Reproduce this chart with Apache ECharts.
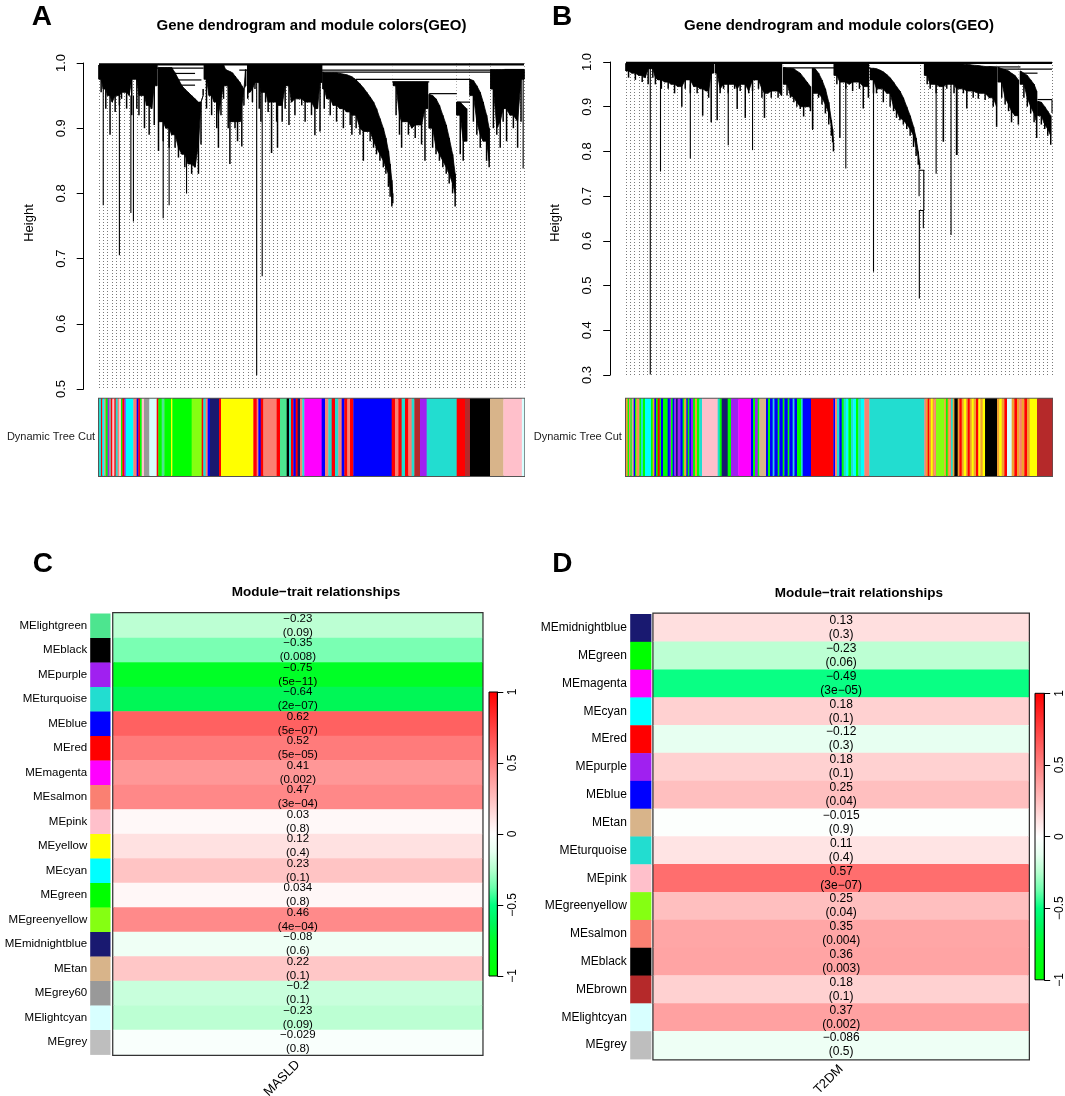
<!DOCTYPE html>
<html><head><meta charset="utf-8">
<script src="https://cdn.jsdelivr.net/npm/echarts@6/dist/echarts.min.js"></script>
<style>html,body{margin:0;padding:0;background:#fff}#c{width:1065px;height:1096px}</style>
</head><body><div id="c"></div>
<script>
const FONT = '"Liberation Sans", Arial, Helvetica, sans-serif';

// ---------- module colours ----------
const MODCOL = {
  turquoise:'#22ddd0', blue:'#0000ff', brown:'#b5292a', yellow:'#ffff00', green:'#00ff00',
  red:'#ff0000', black:'#000000', pink:'#ffc0cb', magenta:'#ff00ff', purple:'#a020f0',
  greenyellow:'#85ff12', tan:'#d8b48a', salmon:'#fa8072', cyan:'#00ffff', midnightblue:'#191970',
  lightcyan:'#d8ffff', grey60:'#999999', lightgreen:'#4de58f', grey:'#bebebe', orange:'#f0a030'
};

// ---------- Panel A dendrogram clusters: each point [leaf order (0-1000), upper height, lowest leaf height] ----------
const denA = [
 [[0,.997,.975],[5,.997,.955],[10,.997,.96],[16,.997,.93],[20,.997,.95],[26,.997,.89],[31,.997,.94],[38,.997,.925],[43,.997,.95],[48,.997,.935],[53,.997,.945],[60,.997,.955],[65,.997,.93],[71,.997,.95],[77,.997,.92],[83,.997,.975],[89,.997,.93],[94,.997,.92],[100,.997,.95],[107,.997,.90],[112,.997,.935],[118,.997,.89],[124,.997,.93],[130,.997,.905],[136,.997,.965]],
 [[140,.993,.865],[146,.993,.91],[151,.993,.88],[157,.993,.90],[165,.993,.87],[171,.993,.89],[179,.985,.87],[187,.975,.855],[195,.965,.86],[202,.96,.84],[210,.955,.845],[218,.95,.83],[226,.945,.84],[234,.94,.83],[240,.94,.875],[245,.95,.96]],
 [[248,.997,.975],[253,.997,.93],[259,.997,.95],[265,.997,.92],[271,.997,.94],[277,.997,.90],[281,.997,.87],[287,.997,.92],[293,.997,.945],[298,.99,.965],[304,.988,.90],[308,.987,.845],[314,.985,.91],[320,.98,.90],[326,.975,.88],[332,.97,.91],[336,.965,.872],[341,.96,.935],[345,.99,.965]],
 [[350,.997,.945],[355,.997,.955],[361,.997,.94],[367,.997,.96],[371,.997,.97],[377,.997,.93],[381,.997,.91],[388,.997,.955],[392,.997,.94],[398,.997,.925],[406,.997,.862],[413,.997,.94],[418,.997,.91],[420,.997,.87],[426,.997,.935],[431,.997,.91],[438,.997,.93],[442,.997,.965],[447,.997,.905],[453,.997,.94],[461,.997,.92],[469,.997,.945],[477,.997,.935],[485,.997,.91],[493,.997,.94],[500,.997,.92],[508,.997,.889],[514,.997,.93],[520,.997,.895],[524,.997,.97]],
 [[527,.986,.96],[530,.985,.93],[536,.985,.945],[544,.985,.92],[551,.985,.935],[559,.985,.91],[567,.984,.93],[575,.983,.90],[583,.982,.925],[591,.98,.905],[595,.979,.89],[599,.977,.92],[605,.974,.90],[614,.968,.89],[622,.962,.85],[630,.955,.895],[638,.948,.88],[646,.94,.87],[653,.93,.86],[661,.915,.85],[669,.90,.84],[675,.885,.83],[681,.865,.81],[685,.845,.795],[689,.82,.78],[691,.80,.785]],
 [[693,.971,.965],[699,.971,.92],[707,.971,.89],[712,.971,.87],[720,.971,.91],[728,.971,.89],[736,.971,.90],[744,.971,.885],[751,.971,.905],[759,.971,.875],[767,.971,.85],[773,.971,.93]],
 [[777,.952,.90],[785,.95,.87],[793,.945,.86],[801,.935,.85],[809,.92,.84],[817,.905,.83],[824,.885,.815],[832,.86,.80],[838,.83,.78]],
 [[842,.94,.92],[850,.94,.86],[857,.935,.85],[865,.93,.88]],
 [[873,.975,.95],[881,.973,.91],[889,.965,.89],[897,.955,.87],[904,.94,.88],[912,.92,.85],[918,.90,.84]],
 [[922,.99,.96],[928,.99,.90],[936,.99,.89],[944,.99,.87],[951,.99,.91],[954,.99,.93],[959,.99,.88],[967,.99,.92],[975,.99,.90],[985,.99,.87],[993,.99,.91],[1000,.99,.975]]
];
// long single branches: [leaf, from height, to height]
const spikesA = [[10,.96,.782],[48,.95,.705],[75,.95,.77],[81,.95,.757],[151,.95,.762],[165,.95,.782],[206,.95,.80],[371,.97,.521],[384,.96,.673],[998,.99,.838]];
// horizontal merges: [leaf from, leaf to, height]
const mergesA = [[0,1000,.998],[136,246,.992],[179,226,.984],[186,241,.974],[190,226,.966],[330,922,.989],[524,1000,.986],[604,873,.975],[690,777,.971],[777,842,.953],[842,873,.94],[954,1000,.99]];

// ---------- Panel B dendrogram clusters ----------
const denB = [
 [[0,.997,.98],[6,.997,.965],[14,.997,.975],[22,.997,.96],[30,.997,.97],[38,.997,.955],[45,.997,.965],[52,.997,.95],[56,.997,.985],[63,.997,.965],[69,.997,.95],[75,.997,.96],[83,.997,.94],[91,.997,.955],[99,.997,.94],[106,.997,.95],[114,.997,.93],[122,.997,.945],[131,.997,.90],[139,.997,.94],[145,.997,.96],[151,.997,.93],[159,.997,.945],[167,.997,.93],[174,.997,.94],[180,.997,.88],[188,.997,.935],[194,.997,.92],[200,.997,.865],[205,.997,.975]],
 [[210,.997,.975],[214,.997,.87],[221,.997,.93],[229,.997,.94],[235,.997,.95],[240,.997,.93],[247,.997,.95],[255,.997,.94],[261,.997,.895],[268,.997,.935],[274,.997,.95],[280,.997,.875],[288,.997,.93],[297,.997,.935],[304,.997,.96],[311,.997,.94],[319,.997,.92],[325,.997,.875],[333,.997,.93],[341,.997,.92],[349,.997,.935],[357,.997,.92],[365,.997,.925]],
 [[370,.988,.95],[378,.986,.925],[386,.986,.92],[394,.985,.91],[401,.98,.90],[409,.975,.895],[417,.965,.878],[425,.955,.90],[433,.945,.89]],
 [[438,.986,.85],[444,.985,.93],[452,.975,.92],[460,.96,.905],[468,.94,.885],[476,.91,.86],[482,.87,.835],[485,.85,.82],[487,.82,.80]],
 [[489,.997,.97],[495,.997,.95],[502,.997,.83],[509,.997,.955],[516,.997,.94],[524,.997,.95],[532,.997,.935],[540,.997,.955],[548,.997,.94],[557,.997,.896],[563,.997,.945],[569,.997,.92]],
 [[574,.986,.96],[581,.986,.93],[588,.985,.93],[596,.982,.94],[604,.978,.91],[612,.972,.93],[620,.965,.90],[628,.955,.89],[635,.945,.875],[643,.935,.87],[651,.92,.86],[659,.90,.85],[667,.88,.835],[675,.855,.81],[681,.83,.79],[686,.80,.77],[689,.775,.76]],
 [[701,.997,.97],[707,.997,.95],[714,.997,.94],[722,.997,.95],[728,.997,.93],[736,.997,.945],[745,.997,.822],[753,.997,.94],[763,.997,.95],[770,.997,.93],[776,.997,.792],[784,.997,.94],[792,.995,.93],[800,.995,.896],[808,.994,.935],[815,.993,.92],[827,.992,.918],[835,.991,.93],[843,.99,.915],[853,.99,.92],[862,.989,.90],[870,.988,.855]],
 [[874,.988,.955],[882,.985,.92],[890,.983,.905],[898,.98,.89],[905,.975,.865],[913,.97,.88],[921,.96,.86]],
 [[926,.98,.95],[934,.975,.92],[942,.97,.90],[950,.96,.885],[958,.95,.865],[964,.935,.83]],
 [[967,.912,.88],[975,.91,.86],[983,.90,.85],[990,.89,.835],[997,.88,.815]]
];
const spikesB = [[57,.99,.301],[81,.96,.755],[151,.95,.784],[240,.95,.814],[297,.95,.803],[438,.98,.848],[516,.96,.762],[581,.97,.531],[728,.96,.75],[745,.96,.822],[763,.97,.613],[777,.96,.792],[1000,.916,.886]];
const mergesB = [[0,1000,.998],[370,574,.987],[853,926,.989],[874,1000,.984],[926,966,.975],[966,1000,.916]];
// U-shaped links: [left leaf, right leaf, merge height, left child height, right child height]
const linksB = [[688,699,.758,.70,.668],[688.6,698,.668,.471,.628]];

// ---------- Dynamic Tree Cut colour strips: [leaf from, leaf to, module] ----------
const barA = [
 [0,4.7,'turquoise'],[4.7,7.8,'red'],[7.8,12.5,'cyan'],[12.5,15.7,'salmon'],[15.7,20.4,'green'],[20.4,23.5,'purple'],[23.5,28.2,'grey60'],[28.2,31.4,'red'],[31.4,36.1,'pink'],[36.1,39.2,'red'],[39.2,43.9,'turquoise'],[43.9,47.1,'salmon'],[47.1,51.8,'pink'],[51.8,54.9,'green'],[54.9,59.6,'red'],[59.6,62.7,'purple'],
 [62.7,80.8,'cyan'],[80.8,88.6,'salmon'],[88.6,92.5,'blue'],[92.5,96.5,'red'],[96.5,100.4,'green'],[100.4,105.9,'pink'],
 [105.9,118.4,'grey60'],[118.4,135.7,'lightcyan'],[135.7,139.6,'red'],[139.6,147.5,'green'],[147.5,153.7,'lightgreen'],[153.7,169.4,'green'],[169.4,172.5,'yellow'],[172.5,218,'green'],
 [218,241.6,'greenyellow'],[241.6,245.5,'red'],[245.5,251,'turquoise'],[251,255.7,'salmon'],[255.7,261.2,'blue'],
 [261.2,282.4,'midnightblue'],[282.4,287.1,'red'],[287.1,363.1,'yellow'],[363.1,371,'red'],[371,374.9,'salmon'],[374.9,380.4,'blue'],[380.4,386.7,'red'],
 [386.7,418,'salmon'],[418,425.9,'red'],[425.9,441.6,'lightgreen'],[441.6,447,'black'],[447,451.8,'turquoise'],[451.8,457.3,'red'],[457.3,462.7,'blue'],[462.7,467.4,'red'],[467.4,473,'midnightblue'],[473,478.4,'salmon'],[478.4,483.1,'turquoise'],
 [483.1,523.9,'magenta'],[523.9,531.8,'blue'],[531.8,539.6,'salmon'],[539.6,547.5,'turquoise'],[547.5,555.3,'red'],[555.3,563.1,'turquoise'],[563.1,571,'salmon'],[571,577.3,'blue'],[577.3,584.3,'red'],[584.3,590.6,'salmon'],[590.6,598.4,'red'],
 [598.4,688.6,'blue'],[688.6,696.5,'red'],[696.5,704.3,'salmon'],[704.3,712.1,'red'],[712.1,720,'turquoise'],[720,727.8,'red'],[727.8,735.7,'salmon'],[735.7,741.9,'turquoise'],[741.9,755.3,'brown'],
 [755.3,771,'purple'],[771,841.6,'turquoise'],[841.6,861.2,'red'],[861.2,872.9,'brown'],[872.9,920,'black'],[920,951.4,'tan'],[951.4,995,'pink'],[995,1000,'lightcyan']
];
const barB = [
 [0,3.9,'orange'],[3.9,7,'green'],[7,10.2,'salmon'],[10.2,13.3,'green'],[13.3,18,'tan'],[18,21.1,'blue'],[21.1,24.3,'green'],[24.3,27.4,'orange'],[27.4,31.3,'salmon'],[31.3,35.2,'green'],[35.2,39.9,'turquoise'],[39.9,44.6,'green'],
 [44.6,58.7,'cyan'],[58.7,62.6,'green'],[62.6,66.5,'orange'],[66.5,70.4,'blue'],[70.4,74.3,'green'],[74.3,79,'red'],[79,82.2,'green'],[82.2,86.9,'blue'],[86.9,97.8,'green'],[97.8,102.5,'blue'],[102.5,105.6,'purple'],[105.6,109.5,'green'],[109.5,113.5,'blue'],[113.5,117.4,'purple'],[117.4,121.3,'midnightblue'],[121.3,127.5,'purple'],[127.5,133,'blue'],[133,136.9,'green'],[136.9,141.6,'orange'],[141.6,144.8,'blue'],[144.8,148.7,'green'],[148.7,152.6,'blue'],[152.6,157.3,'purple'],[157.3,162,'green'],[162,166.7,'orange'],[166.7,172.1,'green'],[172.1,178.4,'turquoise'],
 [178.4,215.2,'pink'],[215.2,219.9,'turquoise'],[219.9,224.6,'green'],[224.6,238.7,'midnightblue'],[238.7,246.5,'green'],[246.5,263.7,'purple'],
 [263.7,293.4,'magenta'],[293.4,298.1,'blue'],[298.1,302.8,'green'],[302.8,309.1,'purple'],[309.1,313,'green'],[313,328.6,'tan'],
 [328.6,333.3,'blue'],[333.3,338,'green'],[338,344.3,'blue'],[344.3,348.2,'turquoise'],[348.2,356,'blue'],[356,360,'green'],[360,367.8,'blue'],[367.8,371.7,'green'],[371.7,379.5,'blue'],[379.5,383.4,'green'],[383.4,391.2,'blue'],[391.2,395.2,'turquoise'],[395.2,401.4,'blue'],
 [401.4,410.8,'green'],[410.8,414.7,'turquoise'],[414.7,434.3,'blue'],[434.3,486.7,'red'],
 [486.7,490.6,'blue'],[490.6,495.3,'salmon'],[495.3,500.8,'turquoise'],[500.8,506.3,'blue'],[506.3,511,'green'],[511,516.5,'turquoise'],[516.5,521.9,'cyan'],[521.9,528.2,'green'],[528.2,533.7,'turquoise'],[533.7,539.9,'cyan'],[539.9,545.4,'green'],[545.4,551.7,'turquoise'],[551.7,559.5,'cyan'],
 [559.5,571.2,'salmon'],[571.2,700.3,'turquoise'],
 [700.3,704.3,'salmon'],[704.3,708.2,'orange'],[708.2,712.1,'red'],[712.1,716,'orange'],[716,719.9,'yellow'],[719.9,723.8,'orange'],[723.8,727.7,'salmon'],
 [727.7,747.3,'greenyellow'],[747.3,751.2,'orange'],[751.2,755.1,'green'],[755.1,759,'orange'],[759,762.9,'salmon'],[762.9,766.9,'turquoise'],[766.9,770.8,'orange'],
 [770.8,778.6,'black'],[778.6,782.5,'orange'],[782.5,788,'red'],[788,792.7,'orange'],[792.7,798.2,'yellow'],[798.2,802.1,'orange'],[802.1,806.8,'red'],[806.8,811.4,'orange'],[811.4,816.1,'yellow'],[816.1,821.6,'orange'],[821.6,827.1,'red'],[827.1,831.8,'yellow'],[831.8,837.3,'orange'],[837.3,842.8,'yellow'],
 [842.8,870.9,'black'],[870.9,876.4,'orange'],[876.4,881.9,'yellow'],[881.9,888.1,'orange'],[888.1,894.4,'red'],[894.4,905.3,'lightcyan'],[905.3,911.6,'orange'],[911.6,917.9,'red'],[917.9,923.3,'orange'],[923.3,928.8,'salmon'],[928.8,935,'orange'],[935,941.4,'red'],[941.4,947.6,'orange'],
 [947.6,964.8,'yellow'],[964.8,1000,'brown']
];

// ---------- Panel C: module-trait (MASLD) ----------
const modsC = ['MElightgreen','MEblack','MEpurple','MEturquoise','MEblue','MEred','MEmagenta','MEsalmon','MEpink','MEyellow','MEcyan','MEgreen','MEgreenyellow','MEmidnightblue','MEtan','MEgrey60','MElightcyan','MEgrey'];
const corC = [-0.23,-0.35,-0.75,-0.64,0.62,0.52,0.41,0.47,0.03,0.12,0.23,0.034,0.46,-0.08,0.22,-0.2,-0.23,-0.029];
const pC = ['0.09','0.008','5e-11','2e-07','5e-07','5e-05','0.002','3e-04','0.8','0.4','0.1','0.8','4e-04','0.6','0.1','0.1','0.09','0.8'];
const traitC = ['MASLD'];

// ---------- Panel D: module-trait (T2DM) ----------
const modsD = ['MEmidnightblue','MEgreen','MEmagenta','MEcyan','MEred','MEpurple','MEblue','MEtan','MEturquoise','MEpink','MEgreenyellow','MEsalmon','MEblack','MEbrown','MElightcyan','MEgrey'];
const corD = [0.13,-0.23,-0.49,0.18,-0.12,0.18,0.25,-0.015,0.11,0.57,0.25,0.35,0.36,0.18,0.37,-0.086];
const pD = ['0.3','0.06','3e-05','0.1','0.3','0.1','0.04','0.9','0.4','3e-07','0.04','0.004','0.003','0.1','0.002','0.5'];
const traitD = ['T2DM'];

// colour scale stops, evenly spaced from -1 to 1
const scaleColors = ['#00ff00','#00ff12','#00ff26','#00f65c','#00ff80','#6cffac','#b4ffce','#e6fff0','#ffffff','#ffe0e0','#ffbfbf','#ffa0a0','#ff8080','#ff6060','#ff4040','#ff2020','#ff0000'];

// ================= helpers =================
const fmt = s => String(s).replace(/-/g, '\u2212');

function denSeries(ax, clusters) {
  return { type:'custom', xAxisIndex:ax, yAxisIndex:ax, silent:true, z:3,
    data: clusters.map(c => [c[0][0], c[c.length - 1][0]]), encode:{x:[0,1]},
    renderItem: (params, api) => {
      const pts = clusters[params.dataIndex];
      const n = pts.length;
      const solid = pts.map((p, i) => {
        let m = p[2];
        if (i > 0) m = Math.max(m, pts[i - 1][2]);
        if (i < n - 1) m = Math.max(m, pts[i + 1][2]);
        return Math.min(m, p[1]);
      });
      const children = [];
      const ceil = pts.map(p => api.coord([p[0], 1]));
      const topL = pts.map(p => api.coord([p[0], p[1]]));
      children.push({ type:'polygon', shape:{points: ceil.concat(topL.slice().reverse())}, style:{fill:'#fff', stroke:'#fff', lineWidth:0.5} });
      const lo = pts.map((p, i) => api.coord([p[0], solid[i]])).reverse();
      children.push({ type:'polygon', shape:{points: topL.concat(lo)}, style:{fill:'#000', stroke:'#000', lineWidth:0.8} });
      pts.forEach(p => {
        const a = api.coord([p[0], p[1]]), b = api.coord([p[0], p[2]]);
        children.push({ type:'line', shape:{x1:a[0], y1:a[1], x2:b[0], y2:b[1]}, style:{stroke:'#000', lineWidth:1.5} });
      });
      return { type:'group', children };
    } };
}
function spikeSeries(ax, arr) {
  return { type:'custom', xAxisIndex:ax, yAxisIndex:ax, silent:true, z:4,
    data: arr, encode:{x:0, y:[1,2]},
    renderItem: (params, api) => {
      const a = api.coord([api.value(0), api.value(1)]), b = api.coord([api.value(0), api.value(2)]);
      return { type:'line', shape:{x1:a[0], y1:a[1], x2:b[0], y2:b[1]}, style:{stroke:'#000', lineWidth:1.1} };
    } };
}
function mergeSeries(ax, arr) {
  return { type:'custom', xAxisIndex:ax, yAxisIndex:ax, silent:true, z:4,
    data: arr, encode:{x:[0,1], y:2},
    renderItem: (params, api) => {
      const a = api.coord([api.value(0), api.value(2)]), b = api.coord([api.value(1), api.value(2)]);
      return { type:'line', shape:{x1:a[0], y1:a[1], x2:b[0], y2:b[1]}, style:{stroke:'#000', lineWidth: params.dataIndex === 0 ? 2.2 : 1.2} };
    } };
}
function linkSeries(ax, arr) {
  return { type:'custom', xAxisIndex:ax, yAxisIndex:ax, silent:true, z:4,
    data: arr, encode:{x:[0,1], y:[2,3,4]},
    renderItem: (params, api) => {
      const l = api.value(0), r = api.value(1), h = api.value(2);
      const pts = [api.coord([l, api.value(3)]), api.coord([l, h]), api.coord([r, h]), api.coord([r, api.value(4)])];
      return { type:'polyline', shape:{points:pts}, style:{stroke:'#000', lineWidth:1.1, fill:null} };
    } };
}
function barSeries(ax, arr) {
  return { type:'custom', xAxisIndex:ax, yAxisIndex:ax, silent:true,
    data: arr.map(d => [d[0], d[1]]), encode:{x:[0,1]},
    renderItem: (params, api) => {
      const p1 = api.coord([api.value(0), 1]), p2 = api.coord([api.value(1), 0]);
      return { type:'rect', shape:{x:p1[0], y:p1[1], width:Math.max(p2[0]-p1[0], 0.5) + 0.35, height:p2[1]-p1[1]},
        style:{fill: MODCOL[arr[params.dataIndex][2]]} };
    } };
}
function squareSeries(ax, mods) {
  return { type:'custom', xAxisIndex:ax, yAxisIndex:ax, silent:true,
    data: mods.map((m, i) => [0, i]), encode:{x:0, y:1},
    renderItem: (params, api) => {
      const c = api.coord([0, api.value(1)]), s = api.size([1, 1]);
      return { type:'rect', shape:{x:c[0]-s[0]/2, y:c[1]-s[1]/2, width:s[0], height:s[1]+0.4},
        style:{fill: MODCOL[mods[params.dataIndex].slice(2)]} };
    } };
}
function heatSeries(ax, cors, ps, fs) {
  return { type:'heatmap', xAxisIndex:ax, yAxisIndex:ax, silent:true,
    data: cors.map((v, i) => [0, i, v]),
    itemStyle:{borderWidth:0},
    emphasis:{disabled:true},
    label:{ show:true, color:'#000', fontSize:fs, lineHeight:14, fontFamily:FONT,
      formatter: p => fmt(cors[p.dataIndex]) + '\n(' + fmt(ps[p.dataIndex]) + ')' } };
}

// ================= grids / axes =================
const grids = [
  {left:99, top:63, width:425, height:326},
  {left:99, top:398.7, width:425, height:77.3, show:true, borderColor:'#555', borderWidth:2},
  {left:626, top:62, width:426, height:313},
  {left:626, top:398.7, width:426, height:77.3, show:true, borderColor:'#555', borderWidth:2},
  {left:90.2, top:613.5, width:20.3, height:441},
  {left:113.6, top:613.5, width:368.5, height:441, show:true, borderColor:'#333', borderWidth:3},
  {left:489, top:692, width:8.3, height:284, show:true, borderColor:'#000', borderWidth:1},
  {left:630.2, top:614, width:21.2, height:445},
  {left:653.8, top:614, width:374.7, height:445, show:true, borderColor:'#333', borderWidth:3},
  {left:1035, top:693.3, width:9.2, height:286.5, show:true, borderColor:'#000', borderWidth:1}
];
const grad = () => new echarts.graphic.LinearGradient(0, 0, 0, 1,
  scaleColors.slice().reverse().map((c, i) => ({offset: i / (scaleColors.length - 1), color: c})));
grids[6].backgroundColor = grad();
grids[9].backgroundColor = grad();
grids.forEach(g => { g.outerBoundsMode = 'none'; g.containLabel = false; });

const hidden = {axisLine:{show:false}, axisTick:{show:false}, axisLabel:{show:false}, splitLine:{show:false}};
const dendroX = gi => ({gridIndex:gi, type:'value', min:0, max:1000, interval:10,
  axisLine:{show:false}, axisTick:{show:false}, axisLabel:{show:false},
  splitLine:{show:true, lineStyle:{color:'#7a7a7a', type:[1,2], width:1}}});
const dendroY = (gi, mn, off) => ({gridIndex:gi, type:'value', min:mn, max:1, interval:0.1, position:'left', offset:off,
  axisLine:{show:true, onZero:false, lineStyle:{color:'#000', width:1}},
  axisTick:{show:true, length:7, lineStyle:{color:'#000', width:1}},
  axisLabel:{rotate:90, margin:16, fontSize:13, color:'#000', fontFamily:FONT, formatter: v => v.toFixed(1)},
  splitLine:{show:false}});
const legendY = gi => ({gridIndex:gi, type:'value', min:-1, max:1, interval:0.5, position:'right',
  axisLine:{show:true, onZero:false, lineStyle:{color:'#000', width:1}},
  axisTick:{show:true, length:6, lineStyle:{color:'#000'}},
  axisLabel:{rotate:90, margin:9, fontSize:12, color:'#000', fontFamily:FONT, formatter: v => fmt(v)},
  splitLine:{show:false}});

const xAxes = [
  dendroX(0),
  Object.assign({gridIndex:1, type:'value', min:0, max:1000}, hidden),
  dendroX(2),
  Object.assign({gridIndex:3, type:'value', min:0, max:1000}, hidden),
  Object.assign({gridIndex:4, type:'category', data:['c']}, hidden),
  {gridIndex:5, type:'category', data:traitC, axisLine:{show:false}, axisTick:{show:false}, splitLine:{show:false},
    axisLabel:{rotate:45, margin:8, fontSize:13, color:'#000', fontFamily:FONT}},
  Object.assign({gridIndex:6, type:'value', min:0, max:1}, hidden),
  Object.assign({gridIndex:7, type:'category', data:['c']}, hidden),
  {gridIndex:8, type:'category', data:traitD, axisLine:{show:false}, axisTick:{show:false}, splitLine:{show:false},
    axisLabel:{rotate:45, margin:8, fontSize:13, color:'#000', fontFamily:FONT}},
  Object.assign({gridIndex:9, type:'value', min:0, max:1}, hidden)
];
const yAxes = [
  dendroY(0, 0.5, 15.3),
  Object.assign({gridIndex:1, type:'value', min:0, max:1}, hidden),
  dendroY(2, 0.3, 15.8),
  Object.assign({gridIndex:3, type:'value', min:0, max:1}, hidden),
  {gridIndex:4, type:'category', data:modsC, inverse:true, axisLine:{show:false}, axisTick:{show:false}, splitLine:{show:false},
    axisLabel:{margin:3, fontSize:11.5, color:'#000', fontFamily:FONT}},
  Object.assign({gridIndex:5, type:'category', data:modsC, inverse:true}, hidden),
  legendY(6),
  {gridIndex:7, type:'category', data:modsD, inverse:true, axisLine:{show:false}, axisTick:{show:false}, splitLine:{show:false},
    axisLabel:{margin:3.4, fontSize:12, color:'#000', fontFamily:FONT}},
  Object.assign({gridIndex:8, type:'category', data:modsD, inverse:true}, hidden),
  legendY(9)
];

// ================= series =================
const series = [
  denSeries(0, denA), spikeSeries(0, spikesA), mergeSeries(0, mergesA),
  barSeries(1, barA),
  denSeries(2, denB), spikeSeries(2, spikesB), mergeSeries(2, mergesB), linkSeries(2, linksB),
  barSeries(3, barB),
  squareSeries(4, modsC)
];
const heatCIdx = series.length; series.push(heatSeries(5, corC, pC, 11.5));
series.push(squareSeries(7, modsD));
const heatDIdx = series.length; series.push(heatSeries(8, corD, pD, 12));

// ================= texts =================
const txt = (text, x, y, font, extra, align, fill) => Object.assign({type:'text', x:x, y:y, z:100, silent:true,
  style:{text:text, font:font, fill:fill || '#000', align:align || 'center', verticalAlign:'middle'}}, extra || {});
const titleFont = 'bold 15px ' + FONT;
const letterFont = 'bold 28px ' + FONT;
const graphics = [
  txt('A', 31.7, 17, letterFont, null, 'left'),
  txt('B', 552, 17, letterFont, null, 'left'),
  txt('C', 32.7, 564, letterFont, null, 'left'),
  txt('D', 552.2, 564, letterFont, null, 'left'),
  txt('Gene dendrogram and module colors(GEO)', 311.5, 26, titleFont),
  txt('Gene dendrogram and module colors(GEO)', 839, 26, titleFont),
  txt('Module\u2212trait relationships', 316, 592.5, 'bold 13.5px ' + FONT),
  txt('Module\u2212trait relationships', 858.9, 593.2, 'bold 13.5px ' + FONT),
  txt('Height', 29.3, 223, '13px ' + FONT, {rotation: Math.PI / 2}),
  txt('Height', 555.6, 223, '13px ' + FONT, {rotation: Math.PI / 2}),
  txt('Dynamic Tree Cut', 51, 437.4, '11px ' + FONT, null, 'center', '#222'),
  txt('Dynamic Tree Cut', 577.8, 437.4, '11px ' + FONT, null, 'center', '#222')
];

const chart = echarts.init(document.getElementById('c'), null, {renderer:'canvas'});
chart.setOption({
  backgroundColor:'#fff',
  animation:false,
  textStyle:{fontFamily:FONT},
  grid: grids, xAxis: xAxes, yAxis: yAxes,
  visualMap: [{show:false, type:'continuous', min:-1, max:1, seriesIndex:[heatCIdx, heatDIdx], dimension:2,
    inRange:{color: scaleColors}}],
  series: series,
  graphic: graphics
});
</script></body></html>
